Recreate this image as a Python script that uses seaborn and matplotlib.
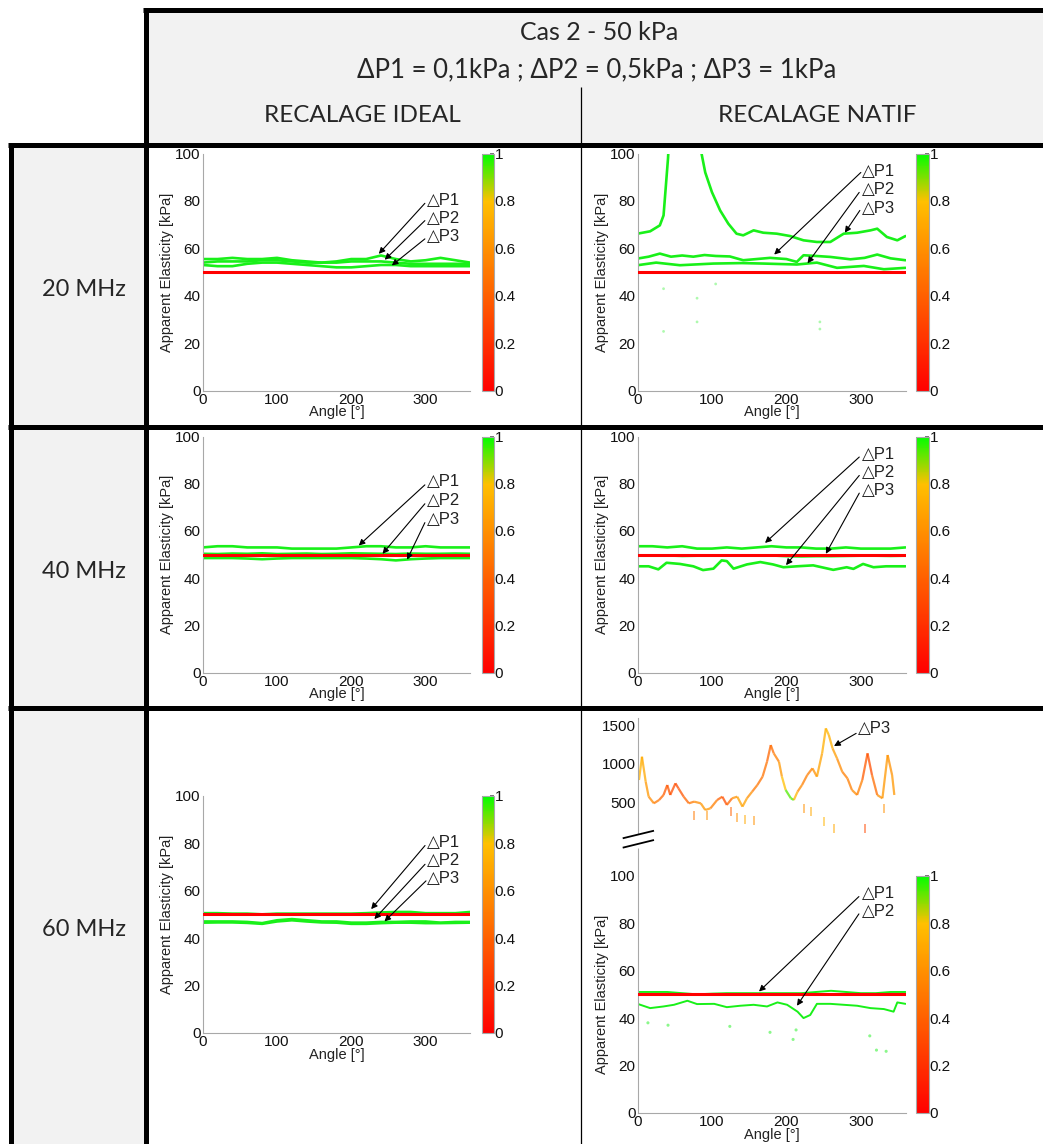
import matplotlib
matplotlib.use('Agg')
import matplotlib.pyplot as plt
import matplotlib.cm as cm
import seaborn as sns
from matplotlib.colors import LinearSegmentedColormap, Normalize
from matplotlib.collections import LineCollection
from matplotlib.lines import Line2D
from matplotlib.patches import Rectangle

# ---------------- data ----------------
ANGLES = [0, 20, 40, 60, 80, 100, 120, 140, 160, 180, 200, 220, 240, 260, 280, 300, 320, 340, 360]
REF_ANGLE = [0, 360]
REF_VALUE = [50, 50]

# 20 MHz - recalage ideal
ideal20_p1 = [55.5, 55.5, 56.0, 55.5, 55.5, 56.0, 55.0, 54.5, 54.0, 54.5, 55.5, 55.5, 57.0, 55.5, 54.5, 55.0, 56.0, 55.0, 54.0]
ideal20_p2 = [54.0, 54.5, 54.5, 54.5, 55.0, 55.0, 54.5, 54.0, 54.0, 54.0, 54.5, 54.5, 54.5, 54.0, 53.5, 53.5, 53.5, 53.5, 53.5]
ideal20_p3 = [53.0, 52.5, 52.5, 53.5, 54.0, 54.0, 53.5, 53.0, 52.5, 52.0, 52.0, 52.5, 53.0, 53.0, 52.5, 52.5, 52.5, 52.5, 52.5]

# 20 MHz - recalage natif
natif20_p1_angle = [0, 15, 30, 45, 60, 75, 90, 105, 124, 142, 160, 178, 200, 214, 223, 240, 259, 286, 305, 322, 340, 360]
natif20_p1 = [55.7, 56.5, 57.8, 56.5, 57.0, 56.5, 57.2, 56.8, 56.6, 55.0, 55.5, 56.0, 55.5, 54.3, 57.1, 56.8, 56.4, 55.4, 56.0, 57.4, 55.8, 55.0]
natif20_p2_angle = [0, 25, 57, 102, 140, 169, 214, 241, 268, 304, 331, 360]
natif20_p2 = [52.9, 54.0, 52.9, 53.6, 53.8, 53.6, 53.2, 54.0, 51.8, 52.6, 51.2, 51.8]
natif20_p3_angle = [0, 17, 30, 35, 41, 48, 80, 86, 91, 100, 111, 122, 133, 142, 156, 169, 187, 205, 223, 241, 259, 277, 295, 313, 322, 335, 349, 360]
natif20_p3 = [66.2, 67.2, 69.7, 73.9, 98.0, 140.0, 140.0, 100.0, 92.0, 83.7, 76.0, 70.4, 66.2, 65.5, 67.6, 66.6, 66.2, 65.2, 63.4, 62.7, 62.7, 66.2, 66.6, 67.6, 68.3, 64.8, 63.4, 65.2]
natif20_stray_angle = [35, 35, 80, 80, 105, 245, 245]
natif20_stray = [43, 25, 39, 29, 45, 29, 26]

# 40 MHz - recalage ideal
ideal40_p1 = [53.0, 53.5, 53.5, 53.0, 53.0, 53.0, 52.5, 52.5, 52.5, 52.5, 53.0, 53.5, 53.5, 53.0, 53.0, 53.5, 53.0, 53.0, 53.0]
ideal40_p2 = [50.3, 50.2, 50.4, 50.3, 50.5, 50.2, 50.3, 50.4, 50.2, 50.3, 50.5, 50.4, 50.3, 50.2, 50.4, 50.3, 50.3, 50.4, 50.3]
ideal40_p3 = [48.5, 48.5, 48.5, 48.3, 48.0, 48.3, 48.5, 48.5, 48.5, 48.5, 48.5, 48.3, 48.0, 47.5, 48.0, 48.3, 48.5, 48.5, 48.5]

# 40 MHz - recalage natif
natif40_p1 = [53.5, 53.5, 53.0, 53.5, 52.5, 52.5, 53.0, 52.5, 53.0, 53.5, 53.0, 53.0, 52.5, 52.5, 53.0, 52.5, 52.5, 52.5, 53.0]
natif40_p3 = [49.6, 49.5, 49.6, 49.4, 49.5, 49.6, 49.5, 49.6, 49.5, 49.6, 49.3, 49.2, 49.3, 49.3, 49.4, 49.5, 49.5, 49.4, 49.5]
natif40_p2_angle = [0, 15, 28, 39, 57, 75, 88, 102, 113, 120, 129, 147, 165, 182, 196, 214, 236, 263, 281, 290, 303, 317, 334, 360]
natif40_p2 = [45.0, 45.0, 43.7, 46.5, 46.0, 45.0, 43.4, 44.0, 47.5, 47.2, 44.0, 45.8, 46.8, 45.8, 44.6, 45.0, 45.4, 43.5, 44.6, 43.9, 46.0, 44.6, 45.0, 45.0]

# 60 MHz - recalage ideal
ideal60_p1 = [50.5, 50.5, 50.3, 50.3, 50.0, 50.3, 50.3, 50.3, 50.3, 50.3, 50.3, 50.5, 50.8, 51.0, 51.0, 50.5, 50.5, 50.5, 51.0]
ideal60_p2 = [47.0, 47.0, 47.0, 46.8, 46.3, 47.5, 48.0, 47.5, 47.0, 47.0, 46.5, 46.5, 46.8, 46.8, 47.0, 47.0, 46.5, 46.8, 46.8]
ideal60_p3 = [46.5, 46.6, 46.6, 46.4, 46.0, 47.0, 47.5, 47.0, 46.6, 46.5, 46.0, 46.0, 46.3, 46.5, 46.5, 46.3, 46.3, 46.4, 46.5]

# 60 MHz - recalage natif
natif60_p1 = [51.0, 51.0, 51.0, 50.5, 50.0, 50.3, 50.5, 50.5, 50.5, 50.5, 50.5, 50.5, 51.0, 51.5, 51.0, 50.5, 50.5, 51.0, 51.0]
natif60_p2_angle = [0, 17, 35, 49, 67, 80, 103, 120, 138, 156, 174, 188, 201, 215, 223, 232, 241, 259, 277, 295, 313, 331, 344, 349, 360]
natif60_p2 = [46.0, 44.2, 44.9, 45.6, 47.3, 45.9, 46.0, 44.6, 45.2, 45.6, 44.9, 46.6, 45.6, 42.7, 40.0, 41.3, 46.0, 46.0, 45.6, 45.2, 44.2, 43.8, 42.7, 46.6, 46.0]
natif60_stray_angle = [14, 41, 124, 178, 209, 213, 312, 321, 334]
natif60_stray = [38, 37, 36.5, 34, 31, 35, 32.5, 26.5, 26]
natif60_p3_angle = [2, 6, 11, 15, 22, 29, 35, 40, 44, 51, 55, 62, 69, 76, 85, 91, 98, 107, 114, 120, 127, 134, 141,
                    147, 154, 161, 168, 174, 179, 183, 190, 194, 199, 206, 210, 215, 221, 228, 235, 241, 248, 253,
                    257, 262, 268, 275, 282, 288, 295, 302, 309, 315, 322, 329, 336, 342, 345]
natif60_p3 = [789, 1090, 767, 573, 487, 530, 595, 724, 595, 746, 681, 573, 487, 509, 487, 401, 422, 530, 573, 466,
              552, 573, 444, 552, 638, 724, 832, 1026, 1241, 1134, 1026, 832, 660, 552, 530, 638, 724, 853, 940, 832,
              1134, 1457, 1371, 1198, 1069, 896, 810, 660, 595, 789, 1134, 853, 595, 552, 1112, 853, 595]
natif60_p3_conf = [0.72, 0.75, 0.65, 0.6, 0.55, 0.45, 0.4, 0.35, 0.35, 0.3, 0.3, 0.4, 0.45, 0.55, 0.6, 0.65, 0.6,
                   0.45, 0.35, 0.3, 0.55, 0.65, 0.7, 0.65, 0.55, 0.45, 0.5, 0.45, 0.4, 0.5, 0.55, 0.7, 0.9, 0.97,
                   0.9, 0.6, 0.55, 0.5, 0.55, 0.65, 0.7, 0.75, 0.75, 0.7, 0.6, 0.55, 0.5, 0.55, 0.6, 0.45, 0.3,
                   0.35, 0.55, 0.65, 0.6, 0.6, 0.65]
natif60_up_stray_angle = [76, 94, 125, 134, 145, 156, 223, 233, 250, 264, 306, 331]
natif60_up_stray = [330, 330, 380, 300, 280, 260, 420, 380, 250, 160, 160, 420]
natif60_up_stray_conf = [0.5, 0.6, 0.4, 0.6, 0.7, 0.6, 0.6, 0.7, 0.75, 0.7, 0.3, 0.6]

HEADER_TITLE = 'Cas 2 - 50 kPa'
HEADER_SUB = 'ΔP1 = 0,1kPa ; ΔP2 = 0,5kPa ; ΔP3 = 1kPa'
COLUMNS = ['RECALAGE IDEAL', 'RECALAGE NATIF']
ROWS = ['20 MHz', '40 MHz', '60 MHz']

# ---------------- style ----------------
W, H = 1043, 1144
GREEN = '#19f019'
AXCOL = '#a8a8a8'
TICK_FS = 11
LABEL_FS = 10.5
ANNOT_FS = 12
CMAP = LinearSegmentedColormap.from_list('conf', [(0, '#ff0000'), (0.8, '#ffc000'), (1, '#00ff00')])

sns.set_theme(style='white')
plt.rcParams['font.family'] = ['Liberation Sans', 'DejaVu Sans']
TABLE_FONT = ['Lato', 'DejaVu Sans']

fig = plt.figure(figsize=(W / 100, H / 100), dpi=100)
fig.patch.set_facecolor('white')


def fx(x):
    return x / W


def fy(y):
    return 1 - y / H


def add_rect(x0, y0, x1, y1, color):
    fig.add_artist(Rectangle((fx(x0), fy(y1)), fx(x1) - fx(x0), fy(y0) - fy(y1), transform=fig.transFigure,
                             facecolor=color, edgecolor='none', zorder=0))


def add_line(x0, y0, x1, y1, lw, color='black', z=6):
    fig.add_artist(Line2D([fx(x0), fx(x1)], [fy(y0), fy(y1)], transform=fig.transFigure,
                          lw=lw, color=color, zorder=z, solid_capstyle='butt'))


def make_axes(x0, y0, x1, y1):
    ax = fig.add_axes([fx(x0), fy(y1), fx(x1) - fx(x0), fy(y0) - fy(y1)])
    ax.set_facecolor('none')
    return ax


def style_axes(ax):
    ax.set_xlim(0, 360)
    ax.set_ylim(0, 100)
    ax.set_xticks([0, 100, 200, 300])
    ax.set_yticks([0, 20, 40, 60, 80, 100])
    for s in ['top', 'right']:
        ax.spines[s].set_visible(False)
    for s in ['left', 'bottom']:
        ax.spines[s].set_color(AXCOL)
        ax.spines[s].set_linewidth(0.8)
    ax.tick_params(direction='in', length=3, color=AXCOL, labelsize=TICK_FS, pad=1.5, labelcolor='#111111')
    ax.set_xlabel('Angle [°]', fontsize=LABEL_FS, labelpad=-1, color='#222222')
    ax.set_ylabel('Apparent Elasticity [kPa]', fontsize=LABEL_FS, labelpad=1, color='#222222')


def draw_curves(ax, curves):
    for ang, val in curves:
        sns.lineplot(x=ang, y=val, ax=ax, color=GREEN, lw=1.9, sort=False, estimator=None, zorder=2)
    sns.lineplot(x=REF_ANGLE, y=REF_VALUE, ax=ax, color='#ff0000', lw=2.2, estimator=None, zorder=3)


def annotate(ax, labels, text_y, tails, heads, text_x=302):
    for lab, ty in zip(labels, text_y):
        ax.text(text_x, ty, '△' + lab, fontsize=ANNOT_FS, color='#222222', va='center', ha='left', zorder=6)
    for tail, head in zip(tails, heads):
        ax.annotate('', xy=head, xytext=tail,
                    arrowprops=dict(arrowstyle='-|>', color='black', lw=0.8, mutation_scale=9,
                                    shrinkA=0, shrinkB=0), zorder=6)


def colorbar(x0, y0, x1, y1):
    cax = make_axes(x0, y0, x1, y1)
    cb = fig.colorbar(cm.ScalarMappable(norm=Normalize(0, 1), cmap=CMAP), cax=cax,
                      ticks=[0, 0.2, 0.4, 0.6, 0.8, 1])
    cb.ax.set_yticklabels(['0', '0.2', '0.4', '0.6', '0.8', '1'])
    cb.outline.set_edgecolor(AXCOL)
    cb.outline.set_linewidth(0.8)
    cb.ax.tick_params(direction='in', length=3, color='#666666', labelsize=TICK_FS, pad=0.5, labelcolor='#111111')


# ---------------- table background ----------------
add_rect(146, 10, W, 145, '#f2f2f2')
add_rect(11, 145, 146, H, '#f2f2f2')

fig.text(fx(599), fy(32), HEADER_TITLE, family=TABLE_FONT, fontsize=18, ha='center', va='center')
fig.text(fx(597), fy(70), HEADER_SUB, family=TABLE_FONT, fontsize=18.5, ha='center', va='center')
fig.text(fx(362), fy(115), COLUMNS[0], family=TABLE_FONT, fontsize=17.5, ha='center', va='center')
fig.text(fx(817), fy(115), COLUMNS[1], family=TABLE_FONT, fontsize=17.5, ha='center', va='center')
for lab, yc in zip(ROWS, [290, 571, 930]):
    fig.text(fx(84), fy(yc), lab, family=TABLE_FONT, fontsize=17, ha='center', va='center')

# grid lines of the table
add_line(143, 10, W, 10, 3.6)
add_line(146, 8, 146, H, 3.6)
add_line(8, 145, W, 145, 3.6)
add_line(11, 143, 11, H, 3.6)
add_line(8, 427, W, 427, 3.6)
add_line(8, 708, W, 708, 3.6)
add_line(581, 87, 581, H, 0.9)

IDEAL_X = (202.7, 470.2)
NATIF_X = (637.5, 905.5)
IDEAL_CB = (481.7, 494)
NATIF_CB = (916, 929)

# ---------------- 20 MHz ----------------
ax = make_axes(IDEAL_X[0], 153.5, IDEAL_X[1], 390.7)
draw_curves(ax, [(ANGLES, ideal20_p3), (ANGLES, ideal20_p2), (ANGLES, ideal20_p1)])
style_axes(ax)
annotate(ax, ['P1', 'P2', 'P3'], [80, 72.5, 65], [(299, 79), (299, 71.7), (299, 64)],
         [(237, 57.7), (245, 55.2), (254.5, 52.8)])
colorbar(IDEAL_CB[0], 153.5, IDEAL_CB[1], 390.7)

ax = make_axes(NATIF_X[0], 153.5, NATIF_X[1], 390.7)
sns.scatterplot(x=natif20_stray_angle, y=natif20_stray, ax=ax, color=GREEN, s=4, alpha=0.35, edgecolor='none')
draw_curves(ax, [(natif20_p3_angle, natif20_p3), (natif20_p2_angle, natif20_p2), (natif20_p1_angle, natif20_p1)])
style_axes(ax)
annotate(ax, ['P1', 'P2', 'P3'], [92.3, 84.8, 77], [(300, 92), (297.8, 83.6), (298.7, 76)],
         [(183.6, 57.4), (228.4, 53.7), (278.5, 66.6)])
colorbar(NATIF_CB[0], 153.5, NATIF_CB[1], 390.7)

# ---------------- 40 MHz ----------------
ax = make_axes(IDEAL_X[0], 436.5, IDEAL_X[1], 672.5)
draw_curves(ax, [(ANGLES, ideal40_p3), (ANGLES, ideal40_p2), (ANGLES, ideal40_p1)])
style_axes(ax)
annotate(ax, ['P1', 'P2', 'P3'], [81, 72.9, 64.8], [(299, 79.5), (299, 71.5), (299, 63.5)],
         [(210, 53.8), (242, 50.3), (275, 47.8)])
colorbar(IDEAL_CB[0], 436.5, IDEAL_CB[1], 672.5)

ax = make_axes(NATIF_X[0], 436.5, NATIF_X[1], 672.5)
draw_curves(ax, [(natif40_p2_angle, natif40_p2), (ANGLES, natif40_p3), (ANGLES, natif40_p1)])
style_axes(ax)
annotate(ax, ['P1', 'P2', 'P3'], [92.3, 84.8, 77.2], [(297.9, 91.3), (297.9, 83.5), (297.9, 76)],
         [(171.3, 54.9), (199.5, 45.5), (253, 50.3)])
colorbar(NATIF_CB[0], 436.5, NATIF_CB[1], 672.5)

# ---------------- 60 MHz ----------------
ax = make_axes(IDEAL_X[0], 795.7, IDEAL_X[1], 1033)
draw_curves(ax, [(ANGLES, ideal60_p3), (ANGLES, ideal60_p2), (ANGLES, ideal60_p1)])
style_axes(ax)
annotate(ax, ['P1', 'P2', 'P3'], [80.2, 72.6, 64.9], [(299.2, 79), (299.2, 71.1), (300.5, 64.1)],
         [(226.7, 52.2), (231, 48), (244.6, 47)])
colorbar(IDEAL_CB[0], 795.7, IDEAL_CB[1], 1033)

ax = make_axes(NATIF_X[0], 875.7, NATIF_X[1], 1113)
sns.scatterplot(x=natif60_stray_angle, y=natif60_stray, ax=ax, color=GREEN, s=5, alpha=0.5, edgecolor='none')
for ang, val in [(natif60_p2_angle, natif60_p2), (ANGLES, natif60_p1)]:
    sns.lineplot(x=ang, y=val, ax=ax, color=GREEN, lw=1.4, sort=False, estimator=None, zorder=2)
sns.lineplot(x=REF_ANGLE, y=REF_VALUE, ax=ax, color='#ff0000', lw=2.2, estimator=None, zorder=3)
style_axes(ax)
annotate(ax, ['P1', 'P2'], [92.6, 84.9], [(297.4, 91.2), (297.4, 83.9)], [(163.2, 51.2), (214.2, 45.2)])
colorbar(NATIF_CB[0], 875.7, NATIF_CB[1], 1113)

# upper part of the broken axis (ΔP3 far above)
axu = make_axes(NATIF_X[0], 718.3, NATIF_X[1], 833)
pts = list(zip(natif60_p3_angle, natif60_p3))
segs = [[pts[i], pts[i + 1]] for i in range(len(pts) - 1)]
seg_conf = [(natif60_p3_conf[i] + natif60_p3_conf[i + 1]) / 2 for i in range(len(pts) - 1)]
lc = LineCollection(segs, cmap=CMAP, norm=Normalize(0, 1), linewidths=1.6, alpha=0.75)
lc.set_array(seg_conf)
axu.add_collection(lc)
sns.scatterplot(x=natif60_up_stray_angle, y=natif60_up_stray, hue=natif60_up_stray_conf, palette=CMAP,
                hue_norm=(0, 1), marker='|', s=40, linewidth=1.2, alpha=0.6, legend=False, ax=axu)
axu.set_xlim(0, 360)
axu.set_ylim(103, 1587)
axu.set_xticks([])
axu.set_yticks([500, 1000, 1500])
for s in ['top', 'right', 'bottom']:
    axu.spines[s].set_visible(False)
axu.spines['left'].set_color(AXCOL)
axu.spines['left'].set_linewidth(0.8)
axu.tick_params(direction='in', length=3, color=AXCOL, labelsize=TICK_FS, pad=1.5, labelcolor='#111111')
axu.text(296, 1457, '△P3', fontsize=ANNOT_FS, color='#222222', va='center', ha='left')
axu.annotate('', xy=(264, 1228), xytext=(293.7, 1392),
             arrowprops=dict(arrowstyle='-|>', color='black', lw=0.8, mutation_scale=9, shrinkA=0, shrinkB=0))

# axis break marks and spine link
add_line(NATIF_X[0], 848, NATIF_X[0], 876, 0.8, AXCOL)
add_line(622.7, 838.3, 654, 830.7, 1.3)
add_line(622.7, 847.7, 654, 840, 1.3)

fig.savefig('out.png', dpi=100, facecolor='white')
